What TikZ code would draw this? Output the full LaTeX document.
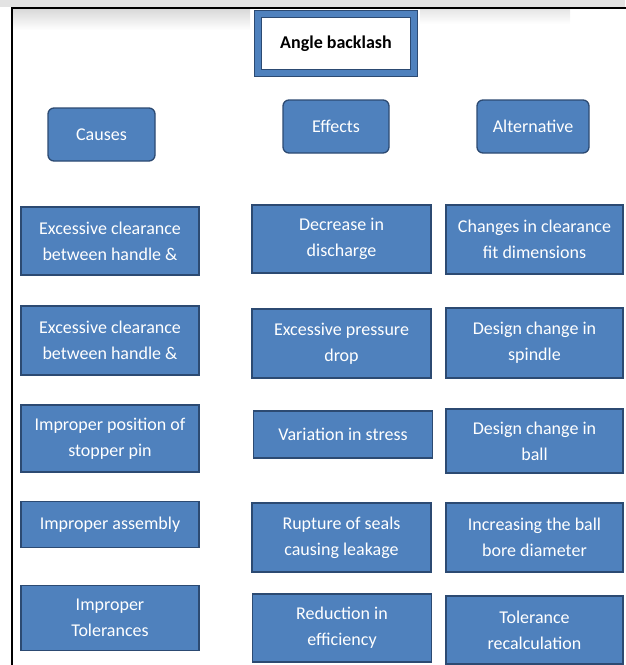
\documentclass[tikz,border=0pt]{standalone}
\usepackage{fontspec}
\setmainfont{Carlito}
\usepackage{tikz}
\usetikzlibrary{positioning}
\definecolor{boxblue}{RGB}{79,129,189}
\definecolor{boxline}{RGB}{44,74,114}
\tikzset{>=latex}
\tikzset{
  itembox/.style={rectangle, fill=boxblue, draw=boxline, line width=1.3pt,
    text=white, align=center, inner sep=0pt, outer sep=0pt,
    font=\fontsize{18}{26}\selectfont},
  headbox/.style={itembox, rounded corners=6pt, minimum height=53pt},
  titlebox/.style={rectangle, fill=white, draw=boxline, double=boxblue,
    double distance=6pt, line width=1.2pt, inner sep=0pt,
    minimum width=155.6pt, minimum height=58.6pt,
    font=\fontsize{18}{22}\selectfont\bfseries}
}

\begin{document}
\begin{tikzpicture}[x=1pt, y=-1pt]
                \useasboundingbox (0, 0) rectangle (625, 665);
                % shadow and frame
                \fill [gray!22] (0, 0) rectangle (625, 7);
                \shade [top color=gray!30, bottom color=white] (13, 9) rectangle (250, 30);
                \shade [top color=gray!20, bottom color=white] (420, 9) rectangle (570, 24);
                \draw [line width=2.4pt] (12, 666) -- (12, 8) -- (626, 8);
                % title
                \node [titlebox] (title) at (336, 43.5) {Angle backlash};
                % headings
                \node [headbox, minimum width=107pt] (causes) at (101.5, 134.5) {Causes};
                \node [headbox, minimum width=106pt] (effects) at (336, 126.5) {Effects};
                \node [headbox, minimum width=112pt] (alternative) at (533, 126.5) {Alternative};
                % causes
                \node [itembox, minimum width=178pt, minimum height=68pt] (cause1) at (110, 241) {Excessive clearance\\between handle \&};
                \node [itembox, minimum width=178pt, minimum height=69pt] (cause2) at (110, 340.5) {Excessive clearance\\between handle \&};
                \node [itembox, minimum width=178pt, minimum height=67pt] (cause3) at (110, 438.5) {Improper position of\\stopper pin};
                \node [itembox, minimum width=178pt, minimum height=46pt] (cause4) at (110, 524.5) {Improper assembly};
                \node [itembox, minimum width=178pt, minimum height=65pt] (cause5) at (110, 618) {Improper\\Tolerances};
                % effects
                \node [itembox, minimum width=179pt, minimum height=68pt] (effect1) at (341.5, 239) {Decrease in\\discharge};
                \node [itembox, minimum width=179pt, minimum height=69pt] (effect2) at (341.5, 343.5) {Excessive pressure\\drop};
                \node [itembox, minimum width=179pt, minimum height=47pt] (effect3) at (343, 434.5) {Variation in stress};
                \node [itembox, minimum width=179pt, minimum height=69pt] (effect4) at (341.5, 537.5) {Rupture of seals\\causing leakage};
                \node [itembox, minimum width=179pt, minimum height=68pt] (effect5) at (342, 628) {Reduction in\\efficiency};
                % alternatives
                \node [itembox, minimum width=177pt, minimum height=69pt] (alt1) at (534.5, 239.5) {Changes in clearance\\fit dimensions};
                \node [itembox, minimum width=177pt, minimum height=70pt] (alt2) at (534.5, 343) {Design change in\\spindle};
                \node [itembox, minimum width=177pt, minimum height=64pt] (alt3) at (534.5, 441) {Design change in\\ball};
                \node [itembox, minimum width=177pt, minimum height=69pt] (alt4) at (534.5, 537.5) {Increasing the ball\\bore diameter};
                \node [itembox, minimum width=177pt, minimum height=68pt] (alt5) at (534.5, 630) {Tolerance\\recalculation};
            \end{tikzpicture}
\end{document}
